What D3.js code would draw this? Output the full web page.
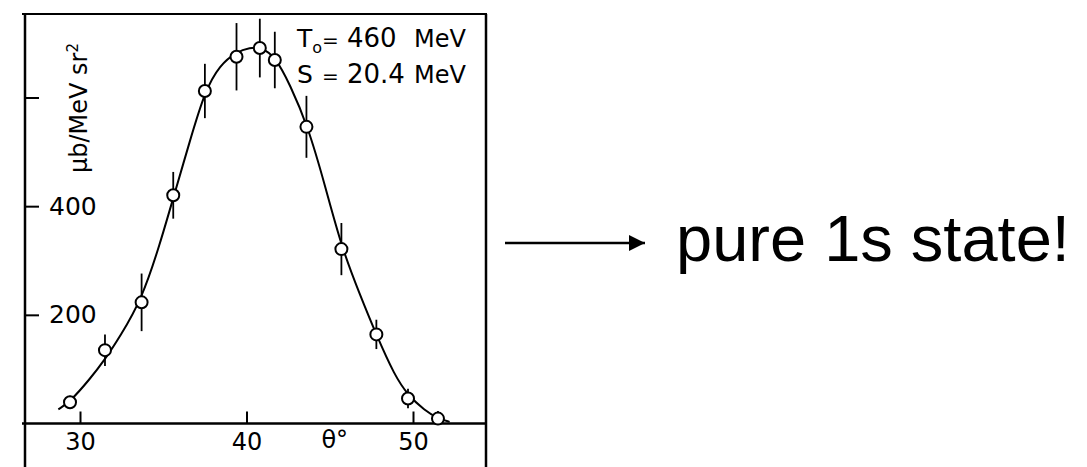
<!DOCTYPE html>
<html>
<head>
<meta charset="utf-8">
<script src="https://cdn.jsdelivr.net/npm/d3@7"></script>
<style>
    html, body { margin: 0; padding: 0; background: #fff; }
    svg { display: block; }
    .plot text { font-family: "DejaVu Sans", sans-serif; fill: #000; }
    .note { font-family: "Liberation Sans", Arial, sans-serif; fill: #000; }
</style>
</head>
<body>
<svg id="chart" width="1087" height="467"></svg>
<script>
// measured points: scattering angle (deg), cross section, error
const angles = [29.4, 31.5, 33.7, 35.6, 37.5, 39.4, 40.8, 41.7, 43.6, 45.7, 47.8, 49.7, 51.5];
const sigma = [39, 135, 223, 420, 612, 675, 691, 669, 546, 321, 164, 46, 9];
const errors = [12, 29, 53, 43, 50, 62, 54, 52, 57, 48, 27, 18, 14];

// fitted curve
const curveAngles = [28.7, 29.4, 30.6, 31.5, 32.4, 33.7, 34.8, 35.6, 36.6, 37.5, 38.4, 39.4, 40.2,
    40.9, 41.7, 42.6, 43.7, 44.7, 45.7, 46.8, 47.8, 48.9, 49.7, 50.7, 51.5, 52.2];
const curveValues = [26, 40, 82, 118, 160, 228, 330, 415, 520, 612, 660, 684, 692,
    692, 676, 625, 546, 440, 325, 238, 163, 88, 52, 24, 9, 3];

const xTicks = [30, 40, 50];
const yTicks = [200, 400, 600];
const paramNames = ["T", "S"];
const paramValues = ["460", "20.4"];
const paramUnits = ["MeV", "MeV"];

const svg = d3.select("#chart");
const plot = svg.append("g").attr("class", "plot");

const x = d3.scaleLinear().domain([30, 50]).range([80, 413]);
const y = d3.scaleLinear().domain([0, 600]).range([423.5, 97.5]);

const frameL = 25, frameR = 486, frameT = 14, frameB = 467;

// frame
function drawLine(x1, y1, x2, y2, w) {
    plot.append("line")
        .attr("x1", x1).attr("y1", y1).attr("x2", x2).attr("y2", y2)
        .attr("stroke", "#000").attr("stroke-width", w);
}
drawLine(frameL - 3, frameT, frameR + 1, frameT, 2);
drawLine(frameL, frameT, frameL, frameB, 2.5);
drawLine(frameR, frameT, frameR, frameB, 2.5);
drawLine(frameL - 3, y(0), frameR + 1, y(0), 2.5);

// axes
const xAxis = d3.axisBottom(x)
    .tickValues(xTicks)
    .tickSizeInner(-12)
    .tickSizeOuter(0)
    .tickPadding(9);
const gx = plot.append("g").attr("transform", "translate(0," + y(0) + ")").call(xAxis);
gx.select(".domain").remove();
gx.selectAll(".tick line").attr("stroke-width", 2);
gx.selectAll(".tick text").style("font-size", "24px");

const yAxis = d3.axisRight(y)
    .tickValues(yTicks)
    .tickSizeInner(14)
    .tickSizeOuter(0)
    .tickPadding(10)
    .tickFormat(function (d) { return d === 600 ? "" : d; });
const gy = plot.append("g").attr("transform", "translate(" + frameL + ",0)").call(yAxis);
gy.select(".domain").remove();
gy.selectAll(".tick line").attr("stroke-width", 2);
gy.selectAll(".tick text").style("font-size", "25px");

// axis titles
plot.append("text")
    .attr("x", x(45.3)).attr("y", 448)
    .attr("text-anchor", "middle")
    .style("font-size", "24px")
    .text("θ°");

const ylab = plot.append("text")
    .attr("transform", "translate(87,108) rotate(-90)")
    .attr("text-anchor", "middle")
    .style("font-size", "24px");
ylab.append("tspan").text("μb/MeV sr");
ylab.append("tspan").style("font-size", "15px").attr("dy", -9).text("2");

// fit curve
const curveData = curveAngles.map(function (a, i) { return [a, curveValues[i]]; });
plot.append("path")
    .datum(curveData)
    .attr("fill", "none")
    .attr("stroke", "#000")
    .attr("stroke-width", 2)
    .attr("d", d3.line()
        .x(function (d) { return x(d[0]); })
        .y(function (d) { return y(d[1]); })
        .curve(d3.curveBasis));

// data points with error bars
const pts = angles.map(function (a, i) { return { a: a, v: sigma[i], e: errors[i] }; });
plot.selectAll(".err").data(pts).enter().append("line")
    .attr("class", "err")
    .attr("x1", function (d) { return x(d.a); })
    .attr("x2", function (d) { return x(d.a); })
    .attr("y1", function (d) { return y(d.v + d.e); })
    .attr("y2", function (d) { return y(Math.max(0, d.v - d.e)); })
    .attr("stroke", "#000").attr("stroke-width", 1.8);
plot.selectAll(".pt").data(pts).enter().append("circle")
    .attr("class", "pt")
    .attr("cx", function (d) { return x(d.a); })
    .attr("cy", function (d) { return y(d.v); })
    .attr("r", 6)
    .attr("fill", "#fff")
    .attr("stroke", "#000").attr("stroke-width", 2);

// fit parameters
paramNames.forEach(function (name, i) {
    const by = 47 + i * 36;
    const t = plot.append("text").attr("x", 297).attr("y", by).style("font-size", "25px");
    t.text(name);
    if (name === "T") {
        t.append("tspan").style("font-size", "16px").attr("dy", 6).text("o");
    }
    plot.append("text").attr("x", 322).attr("y", by).style("font-size", "20px").text("=");
    plot.append("text").attr("x", 347).attr("y", by).style("font-size", "26px").text(paramValues[i]);
    plot.append("text").attr("x", 414).attr("y", by).style("font-size", "24px").text(paramUnits[i]);
});

// annotation arrow + text
svg.append("defs").append("marker")
    .attr("id", "head")
    .attr("viewBox", "0 0 10 10")
    .attr("refX", 10).attr("refY", 5)
    .attr("markerUnits", "userSpaceOnUse")
    .attr("markerWidth", 16).attr("markerHeight", 16)
    .attr("orient", "auto")
    .append("path").attr("d", "M0,0 L10,5 L0,10 Z").attr("fill", "#000");
svg.append("line")
    .attr("x1", 505).attr("y1", 243).attr("x2", 645).attr("y2", 243)
    .attr("stroke", "#000").attr("stroke-width", 2.5)
    .attr("marker-end", "url(#head)");
svg.append("text")
    .attr("class", "note")
    .attr("x", 676).attr("y", 261)
    .attr("font-size", 65)
    .text("pure 1s state!");
</script>
</body>
</html>
